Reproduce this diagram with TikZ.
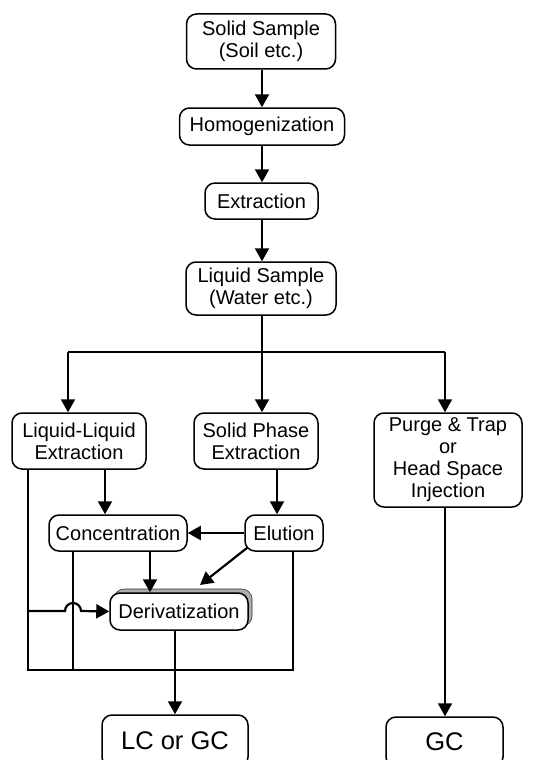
\documentclass[tikz,border=0pt]{standalone}
\usepackage{fontspec}
\setmainfont{Liberation Sans}
\usetikzlibrary{arrows.meta,calc,shadows}
\begin{document}
\begin{tikzpicture}[x=1pt,y=-1pt,
 box/.style={draw,line width=1.5pt,rounded corners=10pt,fill=white,inner sep=0pt,align=center,font=\fontsize{20}{22}\selectfont},
 bigbox/.style={box,font=\fontsize{25.5}{28}\selectfont},
 arr/.style={line width=2.2pt,-{Triangle[width=14pt,length=13pt]}},
 ln/.style={line width=2pt}]
\useasboundingbox (0,0) rectangle (546,760);
\clip (0,0) rectangle (546,760);
\fill[white] (0,0) rectangle (546,760);
% nodes
\node[box,minimum width=149pt,minimum height=55pt] (solid) at (261,41.5) {Solid Sample\\(Soil etc.)};
\node[box,minimum width=165pt,minimum height=37pt] (homog) at (262,126.5) {Homogenization};
\node[box,minimum width=113pt,minimum height=36pt] (extr) at (261.5,201) {Extraction};
\node[box,minimum width=150pt,minimum height=53pt] (liquid) at (261,288.5) {Liquid Sample\\(Water etc.)};
\node[box,minimum width=134pt,minimum height=56pt] (ll) at (79,441) {Liquid-Liquid\\Extraction};
\node[box,minimum width=124pt,minimum height=56pt] (spe) at (256,441) {Solid Phase\\Extraction};
\node[box,minimum width=148pt,minimum height=94pt] (pt) at (448,460) {Purge \& Trap\\or\\Head Space\\Injection};
\node[box,minimum width=138pt,minimum height=36pt] (conc) at (118,533) {Concentration};
\node[box,minimum width=78pt,minimum height=36pt] (elu) at (284,533) {Elution};
\node[box,minimum width=138pt,minimum height=37pt,
      general shadow={shadow xshift=4pt,shadow yshift=4pt,fill=gray!65,draw=gray!40!black,line width=0.6pt}] (deriv) at (179,611.5) {Derivatization};
\node[bigbox,minimum width=146pt,minimum height=52pt] (lcgc) at (175,741) {LC or GC};
\node[bigbox,minimum width=117pt,minimum height=50pt] (gc) at (444.5,742) {GC};
% coordinates
\coordinate (c0) at (262,0);
\coordinate (b1) at (68,352);
\coordinate (b2) at (262,352);
\coordinate (b3) at (445,352);
\coordinate (bl) at (28,670);
\coordinate (bm) at (73,670);
\coordinate (br) at (293,670);
\coordinate (hop) at (65,611);
\coordinate (dtip) at (200,585);
% main chain
\draw[arr] (c0 |- solid.south) -- (c0 |- homog.north);
\draw[arr] (c0 |- homog.south) -- (c0 |- extr.north);
\draw[arr] (c0 |- extr.south) -- (c0 |- liquid.north);
\draw[ln] (c0 |- liquid.south) -- (b2);
\draw[ln] (b1) -- (b3);
\draw[arr] (b1) -- (b1 |- ll.north);
\draw[arr] (b2) -- (b2 |- spe.north);
\draw[arr] (b3) -- (b3 |- pt.north);
% left block
\draw[arr] (105,0 |- ll.south) -- (105,0 |- conc.north);
\draw[arr] (277,0 |- spe.south) -- (277,0 |- elu.north);
\draw[arr] (elu.west) -- (conc.east);
\draw[arr] ($(elu.south west)+(3,-4)$) -- (dtip);
\draw[arr] (150,0 |- conc.south) -- (150,0 |- deriv.north);
\draw[ln] (bl |- ll.south) -- (bl) -- (br) -- (br |- elu.south);
\draw[ln] (bm |- conc.south) -- (bm);
\draw[arr] (bl |- hop) -- (hop) arc[start angle=180,end angle=360,radius=8] -- (deriv.west);
\draw[arr] (lcgc.north |- deriv.south) -- (lcgc.north);
\draw[arr] (b3 |- pt.south) -- (b3 |- gc.north);
\end{tikzpicture}
\end{document}
